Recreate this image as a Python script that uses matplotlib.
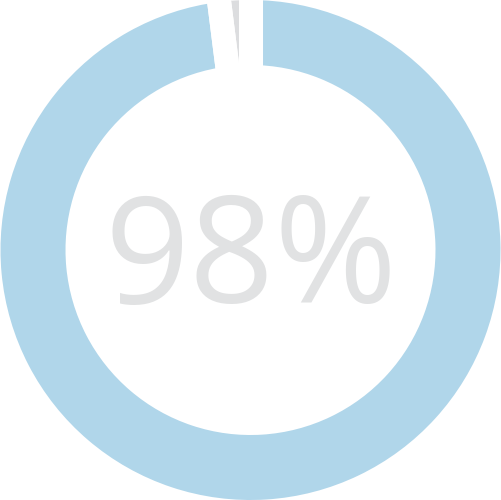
import numpy as np
import matplotlib.pyplot as plt

# Data
values = [98, 2]
colors = ['#b0d6ea', '#dcdddf']
label = '98%'

fig = plt.figure(figsize=(5.01, 5.0), dpi=100)
ax = fig.add_axes([0, 0, 1, 1])

wedges, _ = ax.pie(values, colors=colors, startangle=90, counterclock=False,
                   radius=1.0, wedgeprops=dict(width=0.26, linewidth=0))

# white gaps along the wedge boundaries (only across the ring)
for w in wedges:
    for ang in (w.theta1, w.theta2):
        a = np.deg2rad(ang)
        ax.plot([0.6 * np.cos(a), 1.1 * np.cos(a)], [0.6 * np.sin(a), 1.1 * np.sin(a)],
                color='white', linewidth=17.3, solid_capstyle='butt', zorder=5)

ax.text(0, -0.212, label, ha='center', va='baseline', fontsize=107,
        family='Open Sans', color='#e1e2e3', zorder=6)

ax.set_xlim(-1, 1)
ax.set_ylim(-1, 1)
ax.set_aspect('equal')
ax.axis('off')

plt.savefig('out.png', dpi=100)
